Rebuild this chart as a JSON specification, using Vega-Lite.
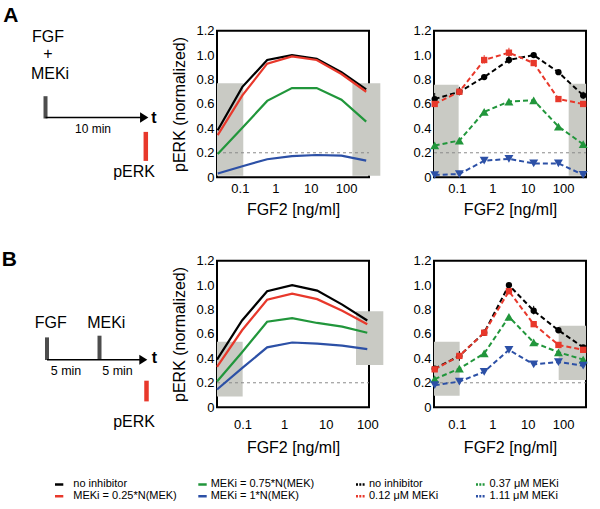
{
 "$schema": "https://vega.github.io/schema/vega-lite/v6.json",
 "background": "white",
 "padding": {"left": 0, "top": 4.7, "right": 0, "bottom": 0},
 "autosize": {"type": "pad"},
 "config": {
  "font": "Liberation Sans",
  "view": {"stroke": "#000000", "strokeWidth": 2},
  "axis": {"ticks": false, "domain": false, "grid": false, "labelFont": "Liberation Sans", "labelFontSize": 13, "labelColor": "#000000", "titleFont": "Liberation Sans", "titleFontSize": 16, "titleFontWeight": "normal", "titleColor": "#000000"},
  "text": {"font": "Liberation Sans", "color": "#000000"}
 },
 "columns": 3,
 "spacing": {"row": 83, "column": 65},
 "bounds": "flush",
 "align": "all",
 "datasets": {
  "barsA": [
   {"part": "stim", "t": -0.05, "h": 65.5, "h2": 87.8},
   {"part": "readout", "t": 9.98, "h": 101.2, "h2": 130.2}
  ],
  "barsB": [
   {"part": "stim", "t": 0.1, "h": 76.7, "h2": 99.3},
   {"part": "stim", "t": 5.35, "h": 75, "h2": 99.3},
   {"part": "readout", "t": 10.05, "h": 120, "h2": 140.7}
  ],
  "arrowA": [{"t": -0.05, "t2": 9.6, "h": 86.8, "tip": 9.82}],
  "arrowB": [{"t": 0.1, "t2": 9.5, "h": 99, "tip": 9.73}],
  "textA": [
   {"role": "panel", "t": -4.27, "h": -8.8, "text": "A"},
   {"role": "label", "t": 0.2, "h": 11.2, "text": "FGF"},
   {"role": "label", "t": 0.2, "h": 28.1, "text": "+"},
   {"role": "label", "t": 0.4, "h": 48.8, "text": "MEKi"},
   {"role": "note", "t": 4.7, "h": 102.5, "text": "10 min"},
   {"role": "label", "t": 8.8, "h": 146.2, "text": "pERK"},
   {"role": "axis", "t": 10.8, "h": 92.8, "text": "t"}
  ],
  "textB": [
   {"role": "panel", "t": -4.43, "h": 5, "text": "B"},
   {"role": "label", "t": 0.48, "h": 67.3, "text": "FGF"},
   {"role": "label", "t": 6.03, "h": 67.3, "text": "MEKi"},
   {"role": "note", "t": 2.0, "h": 114, "text": "5 min"},
   {"role": "note", "t": 7.15, "h": 114, "text": "5 min"},
   {"role": "label", "t": 8.8, "h": 166.7, "text": "pERK"},
   {"role": "axis", "t": 10.85, "h": 102.7, "text": "t"}
  ],
  "legend": [
   {"series": "none", "src": "model", "t": 0.9, "t2": 1.73, "h": 223.7, "tl": 2.73, "text": "no inhibitor"},
   {"series": "low", "src": "model", "t": 0.9, "t2": 1.73, "h": 235.5, "tl": 2.73, "text": "MEKi = 0.25*N(MEK)"},
   {"series": "mid", "src": "model", "t": 15.23, "t2": 16.07, "h": 223.7, "tl": 16.47, "text": "MEKi = 0.75*N(MEK)"},
   {"series": "high", "src": "model", "t": 15.23, "t2": 16.07, "h": 235.5, "tl": 16.47, "text": "MEKi = 1*N(MEK)"},
   {"series": "none", "src": "experiment", "t": 31.0, "t2": 31.9, "h": 223.7, "tl": 32.3, "text": "no inhibitor"},
   {"series": "low", "src": "experiment", "t": 31.0, "t2": 31.9, "h": 235.5, "tl": 32.3, "text": "0.12 μM MEKi"},
   {"series": "mid", "src": "experiment", "t": 43.0, "t2": 43.9, "h": 223.7, "tl": 44.35, "text": "0.37 μM MEKi"},
   {"series": "high", "src": "experiment", "t": 43.0, "t2": 43.9, "h": 235.5, "tl": 44.35, "text": "1.11 μM MEKi"}
  ],
  "boxes": [
   {"panel": "A-model", "fgf": 0.02265, "fgf2": 0.125, "perk": 0.012, "perk2": 0.77},
   {"panel": "A-model", "fgf": 151, "fgf2": 927, "perk": 0.012, "perk2": 0.77},
   {"panel": "A-exp", "fgf": 0.02265, "fgf2": 0.1125, "perk": 0.012, "perk2": 0.758},
   {"panel": "A-exp", "fgf": 144, "fgf2": 444, "perk": 0.012, "perk2": 0.766},
   {"panel": "B-model", "fgf": 0.0244, "fgf2": 0.101, "perk": 0.088, "perk2": 0.536},
   {"panel": "B-model", "fgf": 53.6, "fgf2": 243, "perk": 0.346, "perk2": 0.785},
   {"panel": "B-exp", "fgf": 0.02265, "fgf2": 0.12, "perk": 0.094, "perk2": 0.536},
   {"panel": "B-exp", "fgf": 75.2, "fgf2": 444, "perk": 0.223, "perk2": 0.667}
  ],
  "refs": [
   {"panel": "A", "fgf": 0.02265, "fgf2": 444, "perk": 0.2},
   {"panel": "Bm", "fgf": 0.0244, "fgf2": 110, "perk": 0.2}
  ],
  "modelA": [
   {"series": "none", "fgf": 0.0237, "perk": 0.385}, {"series": "none", "fgf": 0.118, "perk": 0.74}, {"series": "none", "fgf": 0.592, "perk": 0.96}, {"series": "none", "fgf": 2.96, "perk": 1.0}, {"series": "none", "fgf": 14.8, "perk": 0.97}, {"series": "none", "fgf": 74, "perk": 0.86}, {"series": "none", "fgf": 370, "perk": 0.72},
   {"series": "low", "fgf": 0.0237, "perk": 0.345}, {"series": "low", "fgf": 0.118, "perk": 0.67}, {"series": "low", "fgf": 0.592, "perk": 0.93}, {"series": "low", "fgf": 2.96, "perk": 0.99}, {"series": "low", "fgf": 14.8, "perk": 0.96}, {"series": "low", "fgf": 74, "perk": 0.845}, {"series": "low", "fgf": 370, "perk": 0.7},
   {"series": "mid", "fgf": 0.0237, "perk": 0.19}, {"series": "mid", "fgf": 0.118, "perk": 0.405}, {"series": "mid", "fgf": 0.592, "perk": 0.625}, {"series": "mid", "fgf": 2.96, "perk": 0.73}, {"series": "mid", "fgf": 14.8, "perk": 0.73}, {"series": "mid", "fgf": 74, "perk": 0.635}, {"series": "mid", "fgf": 370, "perk": 0.455},
   {"series": "high", "fgf": 0.0237, "perk": 0.03}, {"series": "high", "fgf": 0.118, "perk": 0.09}, {"series": "high", "fgf": 0.592, "perk": 0.147}, {"series": "high", "fgf": 2.96, "perk": 0.172}, {"series": "high", "fgf": 14.8, "perk": 0.182}, {"series": "high", "fgf": 74, "perk": 0.177}, {"series": "high", "fgf": 370, "perk": 0.136}
  ],
  "modelB": [
   {"series": "none", "fgf": 0.0244, "perk": 0.39}, {"series": "none", "fgf": 0.0977, "perk": 0.71}, {"series": "none", "fgf": 0.391, "perk": 0.95}, {"series": "none", "fgf": 1.5625, "perk": 1.0}, {"series": "none", "fgf": 6.25, "perk": 0.955}, {"series": "none", "fgf": 25, "perk": 0.84}, {"series": "none", "fgf": 100, "perk": 0.71},
   {"series": "low", "fgf": 0.0244, "perk": 0.33}, {"series": "low", "fgf": 0.0977, "perk": 0.63}, {"series": "low", "fgf": 0.391, "perk": 0.88}, {"series": "low", "fgf": 1.5625, "perk": 0.93}, {"series": "low", "fgf": 6.25, "perk": 0.885}, {"series": "low", "fgf": 25, "perk": 0.79}, {"series": "low", "fgf": 100, "perk": 0.68},
   {"series": "mid", "fgf": 0.0244, "perk": 0.21}, {"series": "mid", "fgf": 0.0977, "perk": 0.45}, {"series": "mid", "fgf": 0.391, "perk": 0.7}, {"series": "mid", "fgf": 1.5625, "perk": 0.73}, {"series": "mid", "fgf": 6.25, "perk": 0.69}, {"series": "mid", "fgf": 25, "perk": 0.66}, {"series": "mid", "fgf": 100, "perk": 0.61},
   {"series": "high", "fgf": 0.0244, "perk": 0.145}, {"series": "high", "fgf": 0.0977, "perk": 0.32}, {"series": "high", "fgf": 0.391, "perk": 0.49}, {"series": "high", "fgf": 1.5625, "perk": 0.53}, {"series": "high", "fgf": 6.25, "perk": 0.52}, {"series": "high", "fgf": 25, "perk": 0.505}, {"series": "high", "fgf": 100, "perk": 0.475}
  ],
  "expA": [
   {"series": "none", "fgf": 0.0237, "perk": 0.64}, {"series": "none", "fgf": 0.118, "perk": 0.7}, {"series": "none", "fgf": 0.592, "perk": 0.82}, {"series": "none", "fgf": 2.96, "perk": 0.96}, {"series": "none", "fgf": 14.8, "perk": 1.0}, {"series": "none", "fgf": 74, "perk": 0.86}, {"series": "none", "fgf": 370, "perk": 0.67},
   {"series": "low", "fgf": 0.0237, "perk": 0.6}, {"series": "low", "fgf": 0.118, "perk": 0.7}, {"series": "low", "fgf": 0.592, "perk": 0.96}, {"series": "low", "fgf": 2.96, "perk": 1.02}, {"series": "low", "fgf": 14.8, "perk": 0.935}, {"series": "low", "fgf": 74, "perk": 0.64}, {"series": "low", "fgf": 370, "perk": 0.6},
   {"series": "mid", "fgf": 0.0237, "perk": 0.26}, {"series": "mid", "fgf": 0.118, "perk": 0.3}, {"series": "mid", "fgf": 0.592, "perk": 0.535}, {"series": "mid", "fgf": 2.96, "perk": 0.62}, {"series": "mid", "fgf": 14.8, "perk": 0.63}, {"series": "mid", "fgf": 74, "perk": 0.415}, {"series": "mid", "fgf": 370, "perk": 0.27},
   {"series": "high", "fgf": 0.0237, "perk": 0.018}, {"series": "high", "fgf": 0.118, "perk": 0.026}, {"series": "high", "fgf": 0.592, "perk": 0.135}, {"series": "high", "fgf": 2.96, "perk": 0.15}, {"series": "high", "fgf": 14.8, "perk": 0.113}, {"series": "high", "fgf": 74, "perk": 0.113}, {"series": "high", "fgf": 370, "perk": 0.02}
  ],
  "errA": [
   {"series": "none", "fgf": 0.0237, "perk": 0.61, "perk2": 0.69},
   {"series": "none", "fgf": 0.118, "perk": 0.67, "perk2": 0.74},
   {"series": "none", "fgf": 0.592, "perk": 0.8, "perk2": 0.84},
   {"series": "none", "fgf": 2.96, "perk": 0.93, "perk2": 1.0},
   {"series": "none", "fgf": 14.8, "perk": 0.98, "perk2": 1.02},
   {"series": "none", "fgf": 370, "perk": 0.64, "perk2": 0.7},
   {"series": "low", "fgf": 0.592, "perk": 0.93, "perk2": 1.0},
   {"series": "low", "fgf": 2.96, "perk": 0.99, "perk2": 1.06}
  ],
  "expB": [
   {"series": "none", "fgf": 0.0237, "perk": 0.316}, {"series": "none", "fgf": 0.118, "perk": 0.42}, {"series": "none", "fgf": 0.592, "perk": 0.61}, {"series": "none", "fgf": 2.96, "perk": 1.0}, {"series": "none", "fgf": 14.8, "perk": 0.79}, {"series": "none", "fgf": 74, "perk": 0.63}, {"series": "none", "fgf": 370, "perk": 0.49},
   {"series": "low", "fgf": 0.0237, "perk": 0.31}, {"series": "low", "fgf": 0.118, "perk": 0.42}, {"series": "low", "fgf": 0.592, "perk": 0.61}, {"series": "low", "fgf": 2.96, "perk": 0.95}, {"series": "low", "fgf": 14.8, "perk": 0.68}, {"series": "low", "fgf": 74, "perk": 0.51}, {"series": "low", "fgf": 370, "perk": 0.47},
   {"series": "mid", "fgf": 0.0237, "perk": 0.23}, {"series": "mid", "fgf": 0.118, "perk": 0.316}, {"series": "mid", "fgf": 0.592, "perk": 0.44}, {"series": "mid", "fgf": 2.96, "perk": 0.74}, {"series": "mid", "fgf": 14.8, "perk": 0.53}, {"series": "mid", "fgf": 74, "perk": 0.45}, {"series": "mid", "fgf": 370, "perk": 0.39},
   {"series": "high", "fgf": 0.0237, "perk": 0.18}, {"series": "high", "fgf": 0.118, "perk": 0.21}, {"series": "high", "fgf": 0.592, "perk": 0.29}, {"series": "high", "fgf": 2.96, "perk": 0.47}, {"series": "high", "fgf": 14.8, "perk": 0.35}, {"series": "high", "fgf": 74, "perk": 0.37}, {"series": "high", "fgf": 370, "perk": 0.34}
  ],
  "errB": [
   {"series": "none", "fgf": 0.118, "perk": 0.38, "perk2": 0.46},
   {"series": "none", "fgf": 0.592, "perk": 0.6, "perk2": 0.62},
   {"series": "none", "fgf": 2.96, "perk": 0.98, "perk2": 1.02},
   {"series": "none", "fgf": 14.8, "perk": 0.76, "perk2": 0.83},
   {"series": "none", "fgf": 74, "perk": 0.61, "perk2": 0.65},
   {"series": "none", "fgf": 370, "perk": 0.48, "perk2": 0.5},
   {"series": "low", "fgf": 2.96, "perk": 0.93, "perk2": 0.97}
  ]
 },
 "concat": [
  {
   "width": 152, "height": 146.5,
   "view": {"stroke": null},
   "encoding": {
    "x": {"field": "t", "type": "quantitative", "scale": {"domain": [-4.6, 10.6], "nice": false, "zero": false}, "axis": null},
    "y": {"field": "h", "type": "quantitative", "scale": {"domain": [0, 146.5], "reverse": true, "nice": false, "zero": false}, "axis": null}
   },
   "layer": [
    {"data": {"name": "barsA"}, "transform": [{"filter": "datum.part === 'stim'"}], "mark": {"type": "rule", "strokeWidth": 4, "color": "#4d4d4d"}, "encoding": {"y2": {"field": "h2"}}},
    {"data": {"name": "barsA"}, "transform": [{"filter": "datum.part === 'readout'"}], "mark": {"type": "rule", "strokeWidth": 4.5, "color": "#e8382b"}, "encoding": {"y2": {"field": "h2"}}},
    {"data": {"name": "arrowA"}, "mark": {"type": "rule", "strokeWidth": 1.5, "color": "#000000"}, "encoding": {"x2": {"field": "t2"}}},
    {"data": {"name": "arrowA"}, "mark": {"type": "point", "shape": "M-0.8,-1L0.8,0L-0.8,1Z", "filled": true, "color": "#000000", "size": 108, "opacity": 1}, "encoding": {"x": {"field": "tip", "type": "quantitative", "scale": {"domain": [-4.6, 10.6], "nice": false, "zero": false}, "axis": null}}},
    {"data": {"name": "textA"}, "transform": [{"filter": "datum.role === 'panel'"}], "mark": {"type": "text", "fontSize": 21, "fontWeight": "bold", "align": "left", "baseline": "alphabetic"}, "encoding": {"text": {"field": "text"}}},
    {"data": {"name": "textA"}, "transform": [{"filter": "datum.role === 'label'"}], "mark": {"type": "text", "fontSize": 16, "align": "center", "baseline": "alphabetic"}, "encoding": {"text": {"field": "text"}}},
    {"data": {"name": "textA"}, "transform": [{"filter": "datum.role === 'note'"}], "mark": {"type": "text", "fontSize": 12, "align": "center", "baseline": "alphabetic"}, "encoding": {"text": {"field": "text"}}},
    {"data": {"name": "textA"}, "transform": [{"filter": "datum.role === 'axis'"}], "mark": {"type": "text", "fontSize": 16, "fontWeight": "bold", "align": "center", "baseline": "alphabetic"}, "encoding": {"text": {"field": "text"}}}
   ]
  },
  {
   "width": 152, "height": 146.5,
   "encoding": {
    "x": {"field": "fgf", "type": "quantitative", "scale": {"type": "log", "domain": [0.02265, 444], "nice": false}, "axis": {"values": [0.1, 1, 10, 100], "format": "~g", "labelPadding": 5.5, "titlePadding": 6, "title": "FGF2 [ng/ml]"}},
    "y": {"field": "perk", "type": "quantitative", "scale": {"domain": [0, 1.2], "nice": false, "zero": false}, "axis": {"values": [0, 0.2, 0.4, 0.6, 0.8, 1, 1.2], "labelExpr": "datum.value == 0 ? '0' : format(datum.value, '.1f')", "labelPadding": 3, "title": "pERK (normalized)", "titlePadding": 8}}
   },
   "layer": [
    {"data": {"name": "boxes"}, "transform": [{"filter": "datum.panel === 'A-model'"}], "mark": {"type": "rect", "color": "#c9cac4"}, "encoding": {"x2": {"field": "fgf2"}, "y2": {"field": "perk2"}}},
    {"data": {"name": "refs"}, "transform": [{"filter": "datum.panel === 'A'"}], "mark": {"type": "rule", "color": "#8a8a8a", "strokeDash": [3, 3], "strokeWidth": 1}, "encoding": {"x2": {"field": "fgf2"}}},
    {"data": {"name": "modelA"}, "mark": {"type": "line", "strokeWidth": 2.2},
     "encoding": {"color": {"field": "series", "type": "nominal", "scale": {"domain": ["none", "low", "mid", "high"], "range": ["#000000", "#e8382b", "#21963b", "#2c50a6"]}, "legend": null}}}
   ]
  },
  {
   "width": 152, "height": 146.5,
   "encoding": {
    "x": {"field": "fgf", "type": "quantitative", "scale": {"type": "log", "domain": [0.02265, 444], "nice": false}, "axis": {"values": [0.1, 1, 10, 100], "format": "~g", "labelPadding": 5.5, "titlePadding": 6, "title": "FGF2 [ng/ml]"}},
    "y": {"field": "perk", "type": "quantitative", "scale": {"domain": [0, 1.2], "nice": false, "zero": false}, "axis": {"values": [0, 0.2, 0.4, 0.6, 0.8, 1, 1.2], "labelExpr": "datum.value == 0 ? '0' : format(datum.value, '.1f')", "labelPadding": 3, "title": null}},
    "color": {"field": "series", "type": "nominal", "scale": {"domain": ["none", "low", "mid", "high"], "range": ["#000000", "#e8382b", "#21963b", "#2c50a6"]}, "legend": null}
   },
   "layer": [
    {"data": {"name": "boxes"}, "transform": [{"filter": "datum.panel === 'A-exp'"}], "mark": {"type": "rect", "color": "#c9cac4"}, "encoding": {"x2": {"field": "fgf2"}, "y2": {"field": "perk2"}, "color": {"value": "#c9cac4"}}},
    {"data": {"name": "refs"}, "transform": [{"filter": "datum.panel === 'A'"}], "mark": {"type": "rule", "strokeDash": [3, 3], "strokeWidth": 1}, "encoding": {"x2": {"field": "fgf2"}, "color": {"value": "#8a8a8a"}}},
    {"data": {"name": "expA"}, "mark": {"type": "line", "strokeWidth": 2, "strokeDash": [5, 3]}},
    {"data": {"name": "errA"}, "mark": {"type": "rule", "strokeWidth": 1}, "encoding": {"y2": {"field": "perk2"}}},
    {"data": {"name": "expA"}, "transform": [{"filter": "datum.series === 'none' || datum.series === 'low'"}], "mark": {"type": "point", "filled": true, "opacity": 1, "size": 40},
     "encoding": {"shape": {"field": "series", "type": "nominal", "scale": {"domain": ["none", "low", "mid", "high"], "range": ["circle", "square", "triangle-up", "triangle-down"]}, "legend": null}}},
    {"data": {"name": "expA"}, "transform": [{"filter": "datum.series === 'mid' || datum.series === 'high'"}], "mark": {"type": "point", "filled": true, "opacity": 1, "size": 80},
     "encoding": {"shape": {"field": "series", "type": "nominal", "scale": {"domain": ["none", "low", "mid", "high"], "range": ["circle", "square", "triangle-up", "triangle-down"]}, "legend": null}}}
   ]
  },
  {
   "width": 152, "height": 146.5,
   "view": {"stroke": null},
   "encoding": {
    "x": {"field": "t", "type": "quantitative", "scale": {"domain": [-4.6, 10.6], "nice": false, "zero": false}, "axis": null},
    "y": {"field": "h", "type": "quantitative", "scale": {"domain": [0, 146.5], "reverse": true, "nice": false, "zero": false}, "axis": null}
   },
   "layer": [
    {"data": {"name": "barsB"}, "transform": [{"filter": "datum.part === 'stim'"}], "mark": {"type": "rule", "strokeWidth": 4, "color": "#4d4d4d"}, "encoding": {"y2": {"field": "h2"}}},
    {"data": {"name": "barsB"}, "transform": [{"filter": "datum.part === 'readout'"}], "mark": {"type": "rule", "strokeWidth": 4.5, "color": "#e8382b"}, "encoding": {"y2": {"field": "h2"}}},
    {"data": {"name": "arrowB"}, "mark": {"type": "rule", "strokeWidth": 1.5, "color": "#000000"}, "encoding": {"x2": {"field": "t2"}}},
    {"data": {"name": "arrowB"}, "mark": {"type": "point", "shape": "M-0.8,-1L0.8,0L-0.8,1Z", "filled": true, "color": "#000000", "size": 100, "opacity": 1}, "encoding": {"x": {"field": "tip", "type": "quantitative", "scale": {"domain": [-4.6, 10.6], "nice": false, "zero": false}, "axis": null}}},
    {"data": {"name": "textB"}, "transform": [{"filter": "datum.role === 'panel'"}], "mark": {"type": "text", "fontSize": 21, "fontWeight": "bold", "align": "left", "baseline": "alphabetic"}, "encoding": {"text": {"field": "text"}}},
    {"data": {"name": "textB"}, "transform": [{"filter": "datum.role === 'label'"}], "mark": {"type": "text", "fontSize": 16, "align": "center", "baseline": "alphabetic"}, "encoding": {"text": {"field": "text"}}},
    {"data": {"name": "textB"}, "transform": [{"filter": "datum.role === 'note'"}], "mark": {"type": "text", "fontSize": 12.5, "align": "center", "baseline": "alphabetic"}, "encoding": {"text": {"field": "text"}}},
    {"data": {"name": "textB"}, "transform": [{"filter": "datum.role === 'axis'"}], "mark": {"type": "text", "fontSize": 16, "fontWeight": "bold", "align": "center", "baseline": "alphabetic"}, "encoding": {"text": {"field": "text"}}},
    {"data": {"name": "legend"}, "mark": {"type": "rule", "strokeWidth": 2.5},
     "encoding": {
      "x2": {"field": "t2"},
      "color": {"field": "series", "type": "nominal", "scale": {"domain": ["none", "low", "mid", "high"], "range": ["#000000", "#e8382b", "#21963b", "#2c50a6"]}, "legend": null},
      "strokeDash": {"field": "src", "type": "nominal", "scale": {"domain": ["model", "experiment"], "range": [[1, 0], [2, 1.3]]}, "legend": null}
     }},
    {"data": {"name": "legend"}, "mark": {"type": "text", "fontSize": 11, "align": "left", "baseline": "middle"},
     "encoding": {
      "x": {"field": "tl", "type": "quantitative", "scale": {"domain": [-4.6, 10.6], "nice": false, "zero": false}, "axis": null},
      "text": {"field": "text"}
     }}
   ]
  },
  {
   "width": 152, "height": 146.5,
   "encoding": {
    "x": {"field": "fgf", "type": "quantitative", "scale": {"type": "log", "domain": [0.0244, 110], "nice": false}, "axis": {"values": [0.1, 1, 10, 100], "format": "~g", "labelPadding": 11, "titlePadding": 8, "title": "FGF2 [ng/ml]"}},
    "y": {"field": "perk", "type": "quantitative", "scale": {"domain": [0, 1.2], "nice": false, "zero": false}, "axis": {"values": [0, 0.2, 0.4, 0.6, 0.8, 1, 1.2], "labelExpr": "datum.value == 0 ? '0' : format(datum.value, '.1f')", "labelPadding": 3, "title": "pERK (normalized)", "titlePadding": 8}}
   },
   "layer": [
    {"data": {"name": "boxes"}, "transform": [{"filter": "datum.panel === 'B-model'"}], "mark": {"type": "rect", "color": "#c9cac4"}, "encoding": {"x2": {"field": "fgf2"}, "y2": {"field": "perk2"}}},
    {"data": {"name": "refs"}, "transform": [{"filter": "datum.panel === 'Bm'"}], "mark": {"type": "rule", "color": "#8a8a8a", "strokeDash": [3, 3], "strokeWidth": 1}, "encoding": {"x2": {"field": "fgf2"}}},
    {"data": {"name": "modelB"}, "mark": {"type": "line", "strokeWidth": 2.2},
     "encoding": {"color": {"field": "series", "type": "nominal", "scale": {"domain": ["none", "low", "mid", "high"], "range": ["#000000", "#e8382b", "#21963b", "#2c50a6"]}, "legend": null}}}
   ]
  },
  {
   "width": 152, "height": 146.5,
   "encoding": {
    "x": {"field": "fgf", "type": "quantitative", "scale": {"type": "log", "domain": [0.02265, 444], "nice": false}, "axis": {"values": [0.1, 1, 10, 100], "format": "~g", "labelPadding": 11, "titlePadding": 8, "title": "FGF2 [ng/ml]"}},
    "y": {"field": "perk", "type": "quantitative", "scale": {"domain": [0, 1.2], "nice": false, "zero": false}, "axis": {"values": [0, 0.2, 0.4, 0.6, 0.8, 1, 1.2], "labelExpr": "datum.value == 0 ? '0' : format(datum.value, '.1f')", "labelPadding": 3, "title": null}},
    "color": {"field": "series", "type": "nominal", "scale": {"domain": ["none", "low", "mid", "high"], "range": ["#000000", "#e8382b", "#21963b", "#2c50a6"]}, "legend": null}
   },
   "layer": [
    {"data": {"name": "boxes"}, "transform": [{"filter": "datum.panel === 'B-exp'"}], "mark": {"type": "rect"}, "encoding": {"x2": {"field": "fgf2"}, "y2": {"field": "perk2"}, "color": {"value": "#c9cac4"}}},
    {"data": {"name": "refs"}, "transform": [{"filter": "datum.panel === 'A'"}], "mark": {"type": "rule", "strokeDash": [3, 3], "strokeWidth": 1}, "encoding": {"x2": {"field": "fgf2"}, "color": {"value": "#8a8a8a"}}},
    {"data": {"name": "expB"}, "mark": {"type": "line", "strokeWidth": 2, "strokeDash": [5, 3]}},
    {"data": {"name": "errB"}, "mark": {"type": "rule", "strokeWidth": 1}, "encoding": {"y2": {"field": "perk2"}}},
    {"data": {"name": "expB"}, "transform": [{"filter": "datum.series === 'none' || datum.series === 'low'"}], "mark": {"type": "point", "filled": true, "opacity": 1, "size": 40},
     "encoding": {"shape": {"field": "series", "type": "nominal", "scale": {"domain": ["none", "low", "mid", "high"], "range": ["circle", "square", "triangle-up", "triangle-down"]}, "legend": null}}},
    {"data": {"name": "expB"}, "transform": [{"filter": "datum.series === 'mid' || datum.series === 'high'"}], "mark": {"type": "point", "filled": true, "opacity": 1, "size": 80},
     "encoding": {"shape": {"field": "series", "type": "nominal", "scale": {"domain": ["none", "low", "mid", "high"], "range": ["circle", "square", "triangle-up", "triangle-down"]}, "legend": null}}}
   ]
  }
 ]
}
